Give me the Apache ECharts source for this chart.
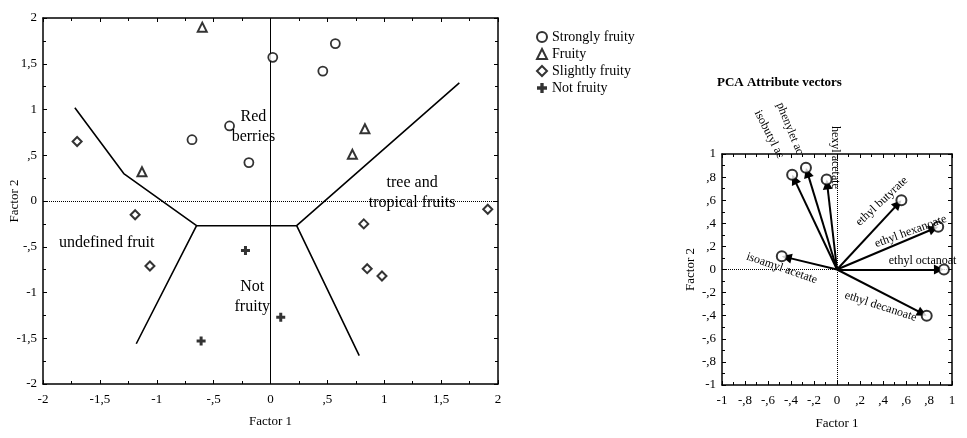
<!DOCTYPE html>
<html>
<head>
<meta charset="utf-8">
<script src="https://cdn.jsdelivr.net/npm/echarts@6/dist/echarts.min.js"></script>
<style>
html,body{margin:0;padding:0;background:#fff}
#chart{width:967px;height:438px}
</style>
</head>
<body>
<div id="chart"></div>
<script>
// left plot: samples on factor 1 / factor 2
const strongly = [[0.02,1.57],[0.57,1.72],[0.46,1.42],[-0.36,0.82],[-0.69,0.67],[-0.19,0.42]];
const fruity = [[-0.60,1.90],[-1.13,0.32],[0.83,0.79],[0.72,0.51]];
const slightly = [[-1.70,0.65],[-1.19,-0.15],[1.91,-0.09],[0.82,-0.25],[-1.06,-0.71],[0.85,-0.74],[0.98,-0.82]];
const notFruity = [[-0.22,-0.54],[0.09,-1.27],[-0.61,-1.53]];

// region boundaries drawn by hand in the original
const leftBoundary = [[-1.72,1.02],[-1.29,0.30],[-0.65,-0.27],[-1.18,-1.56]];
const middleBoundary = [[-0.65,-0.27],[0.23,-0.27]];
const rightBoundary = [[1.66,1.29],[0.23,-0.27],[0.78,-1.69]];

const regionNames = ['Red\nberries','tree and\ntropical fruits','undefined fruit','Not\nfruity'];
const regionAt = [[-0.15,0.81],[1.245,0.09],[-1.44,-0.46],[-0.16,-1.05]];

// right plot: PCA attribute vectors
const attrNames = ['isobutyl ac','phenylet ac','hexyl acetate','ethyl butyrate','ethyl hexanoate','ethyl octanoat','isoamyl acetate','ethyl decanoate'];
const attrF1 = [-0.39,-0.27,-0.09,0.56,0.88,0.93,-0.48,0.78];
const attrF2 = [0.82,0.88,0.78,0.60,0.37,0.00,0.115,-0.40];

// label anchors (data units) and text angles
const attrLabelAt = [[-0.59,1.17],[-0.41,1.22],[-0.015,0.97],[0.39,0.59],[0.64,0.33],[0.45,0.075],[-0.48,0.01],[0.38,-0.32]];
const attrLabelRot = [-63,-68,-90,43,20,0,-19,-18];

const leftTickLabels = ['-2','-1,5','-1','-,5','0',',5','1','1,5','2'];
const rightTickLabels = ['-1','-,8','-,6','-,4','-,2','0',',2',',4',',6',',8','1'];

const FONT = '"Liberation Serif", "DejaVu Serif", serif';
const plusPath = 'path://M3,0H6V3H9V6H6V9H3V6H0V3H3Z';

function axis(opts) {
  const base = {
    type: 'value',
    splitLine: {show: false},
    axisLine: {onZero: false, lineStyle: {color: '#000', width: 1.5}},
    axisTick: {inside: true, length: 4, lineStyle: {color: '#000'}},
    minorTick: {show: true, splitNumber: 2, length: 3, lineStyle: {color: '#000'}},
    axisLabel: {show: false, color: '#000', fontFamily: FONT, fontSize: 13},
    nameMoveOverlap: false,
    nameTextStyle: {color: '#000', fontFamily: FONT, fontSize: 13}
  };
  return Object.assign(base, opts);
}
function leftFmt(v) { return leftTickLabels[Math.round((v + 2) / 0.5)]; }
function rightFmt(v) { return rightTickLabels[Math.round((v + 1) / 0.2)]; }

const n = 1 / 115; // approx data units per pixel on right plot
const vectors = attrNames.map((name, i) => {
  const len = Math.sqrt(attrF1[i] * attrF1[i] + attrF2[i] * attrF2[i]);
  const k = 1 - 5 * n / len;
  return {coords: [[0, 0], [attrF1[i] * k, attrF2[i] * k]]};
});

const textLabel = {
  show: true, position: 'inside', formatter: p => p.name,
  fontFamily: FONT, color: '#000', textBorderWidth: 0, opacity: 1
};

const chart = echarts.init(document.getElementById('chart'));
chart.setOption({
  animation: false,
  backgroundColor: '#fff',
  title: {
    text: 'PCA Attribute vectors', left: 712, top: 71,
    textStyle: {fontFamily: FONT, fontSize: 13, fontWeight: 'bold', color: '#000'}
  },
  legend: {
    orient: 'vertical', left: 531, top: 25, itemWidth: 10, itemHeight: 10, itemGap: 3,
    data: ['Strongly fruity', 'Fruity', 'Slightly fruity', 'Not fruity'],
    textStyle: {fontFamily: FONT, fontSize: 14, color: '#000'}
  },
  grid: [
    {left: 43, top: 18, width: 455, height: 366},
    {left: 722, top: 154, width: 230, height: 231}
  ],
  xAxis: [
    axis({gridIndex: 0, min: -2, max: 2, interval: 0.5, position: 'bottom',
      axisLabel: {show: true, margin: 9, color: '#000', fontFamily: FONT, fontSize: 13, formatter: leftFmt},
      name: 'Factor 1', nameLocation: 'middle', nameGap: 31}),
    axis({gridIndex: 0, min: -2, max: 2, interval: 0.5, position: 'top'}),
    axis({gridIndex: 1, min: -1, max: 1, interval: 0.2, position: 'bottom',
      axisLabel: {show: true, margin: 9, color: '#000', fontFamily: FONT, fontSize: 13, formatter: rightFmt},
      name: 'Factor 1', nameLocation: 'middle', nameGap: 32}),
    axis({gridIndex: 1, min: -1, max: 1, interval: 0.2, position: 'top'})
  ],
  yAxis: [
    axis({gridIndex: 0, min: -2, max: 2, interval: 0.5, position: 'left',
      axisLabel: {show: true, margin: 6, color: '#000', fontFamily: FONT, fontSize: 13, formatter: leftFmt},
      name: 'Factor 2', nameLocation: 'middle', nameGap: 22}),
    axis({gridIndex: 0, min: -2, max: 2, interval: 0.5, position: 'right'}),
    axis({gridIndex: 1, min: -1, max: 1, interval: 0.2, position: 'left',
      axisLabel: {show: true, margin: 6, color: '#000', fontFamily: FONT, fontSize: 13, formatter: rightFmt},
      name: 'Factor 2', nameLocation: 'middle', nameGap: 25}),
    axis({gridIndex: 1, min: -1, max: 1, interval: 0.2, position: 'right'})
  ],
  series: [
    {
      type: 'line', xAxisIndex: 0, yAxisIndex: 0, data: leftBoundary, symbol: 'none',
      lineStyle: {color: '#000', width: 1.6}, z: 2,
      markLine: {
        silent: true, symbol: 'none', label: {show: false},
        data: [
          {xAxis: 0, lineStyle: {color: '#000', width: 1, type: 'solid'}},
          {yAxis: 0, lineStyle: {color: '#000', width: 1, type: 'dotted'}}
        ]
      }
    },
    {type: 'line', xAxisIndex: 0, yAxisIndex: 0, data: middleBoundary, symbol: 'none', lineStyle: {color: '#000', width: 1.6}, z: 2},
    {type: 'line', xAxisIndex: 0, yAxisIndex: 0, data: rightBoundary, symbol: 'none', lineStyle: {color: '#000', width: 1.6}, z: 2},
    {
      name: 'Strongly fruity', type: 'scatter', xAxisIndex: 0, yAxisIndex: 0, data: strongly,
      symbol: 'circle', symbolSize: 9, itemStyle: {color: '#fff', borderColor: '#000', borderWidth: 1.8}, z: 5
    },
    {
      name: 'Fruity', type: 'scatter', xAxisIndex: 0, yAxisIndex: 0, data: fruity,
      symbol: 'triangle', symbolSize: 9, itemStyle: {color: '#fff', borderColor: '#000', borderWidth: 2}, z: 5
    },
    {
      name: 'Slightly fruity', type: 'scatter', xAxisIndex: 0, yAxisIndex: 0, data: slightly,
      symbol: 'diamond', symbolSize: 9, itemStyle: {color: '#fff', borderColor: '#000', borderWidth: 2}, z: 5
    },
    {
      name: 'Not fruity', type: 'scatter', xAxisIndex: 0, yAxisIndex: 0, data: notFruity,
      symbol: plusPath, symbolSize: 9, itemStyle: {color: '#000'}, z: 5
    },
    {
      type: 'scatter', xAxisIndex: 0, yAxisIndex: 0, silent: true, z: 6,
      symbol: 'circle', symbolSize: 0.1, itemStyle: {color: '#fff', opacity: 0},
      data: regionNames.map((t, i) => ({name: t, value: regionAt[i]})),
      label: Object.assign({}, textLabel, {fontSize: 16, lineHeight: 20, align: 'center'})
    },
    // right plot
    {
      type: 'lines', coordinateSystem: 'cartesian2d', xAxisIndex: 2, yAxisIndex: 2,
      data: vectors, symbol: ['none', 'triangle'], symbolSize: [0, 10],
      lineStyle: {color: '#000', width: 2, opacity: 1}, z: 3,
      markLine: {
        silent: true, symbol: 'none', label: {show: false},
        data: [
          {xAxis: 0, lineStyle: {color: '#000', width: 1, type: 'dotted'}},
          {yAxis: 0, lineStyle: {color: '#000', width: 1, type: 'dotted'}}
        ]
      }
    },
    {
      type: 'scatter', xAxisIndex: 2, yAxisIndex: 2, z: 5,
      data: attrF1.map((x, i) => [x, attrF2[i]]),
      symbol: 'circle', symbolSize: 10, itemStyle: {color: '#fff', borderColor: '#000', borderWidth: 2}
    },
    {
      type: 'scatter', xAxisIndex: 2, yAxisIndex: 2, silent: true, clip: false, z: 6,
      symbol: 'circle', symbolSize: 0.1, itemStyle: {color: '#fff', opacity: 0},
      data: attrNames.map((t, i) => ({
        name: t, value: attrLabelAt[i],
        label: {rotate: attrLabelRot[i], align: attrLabelRot[i] === 0 ? 'left' : 'center'}
      })),
      label: Object.assign({}, textLabel, {fontSize: 12})
    }
  ]
});
</script>
</body>
</html>
